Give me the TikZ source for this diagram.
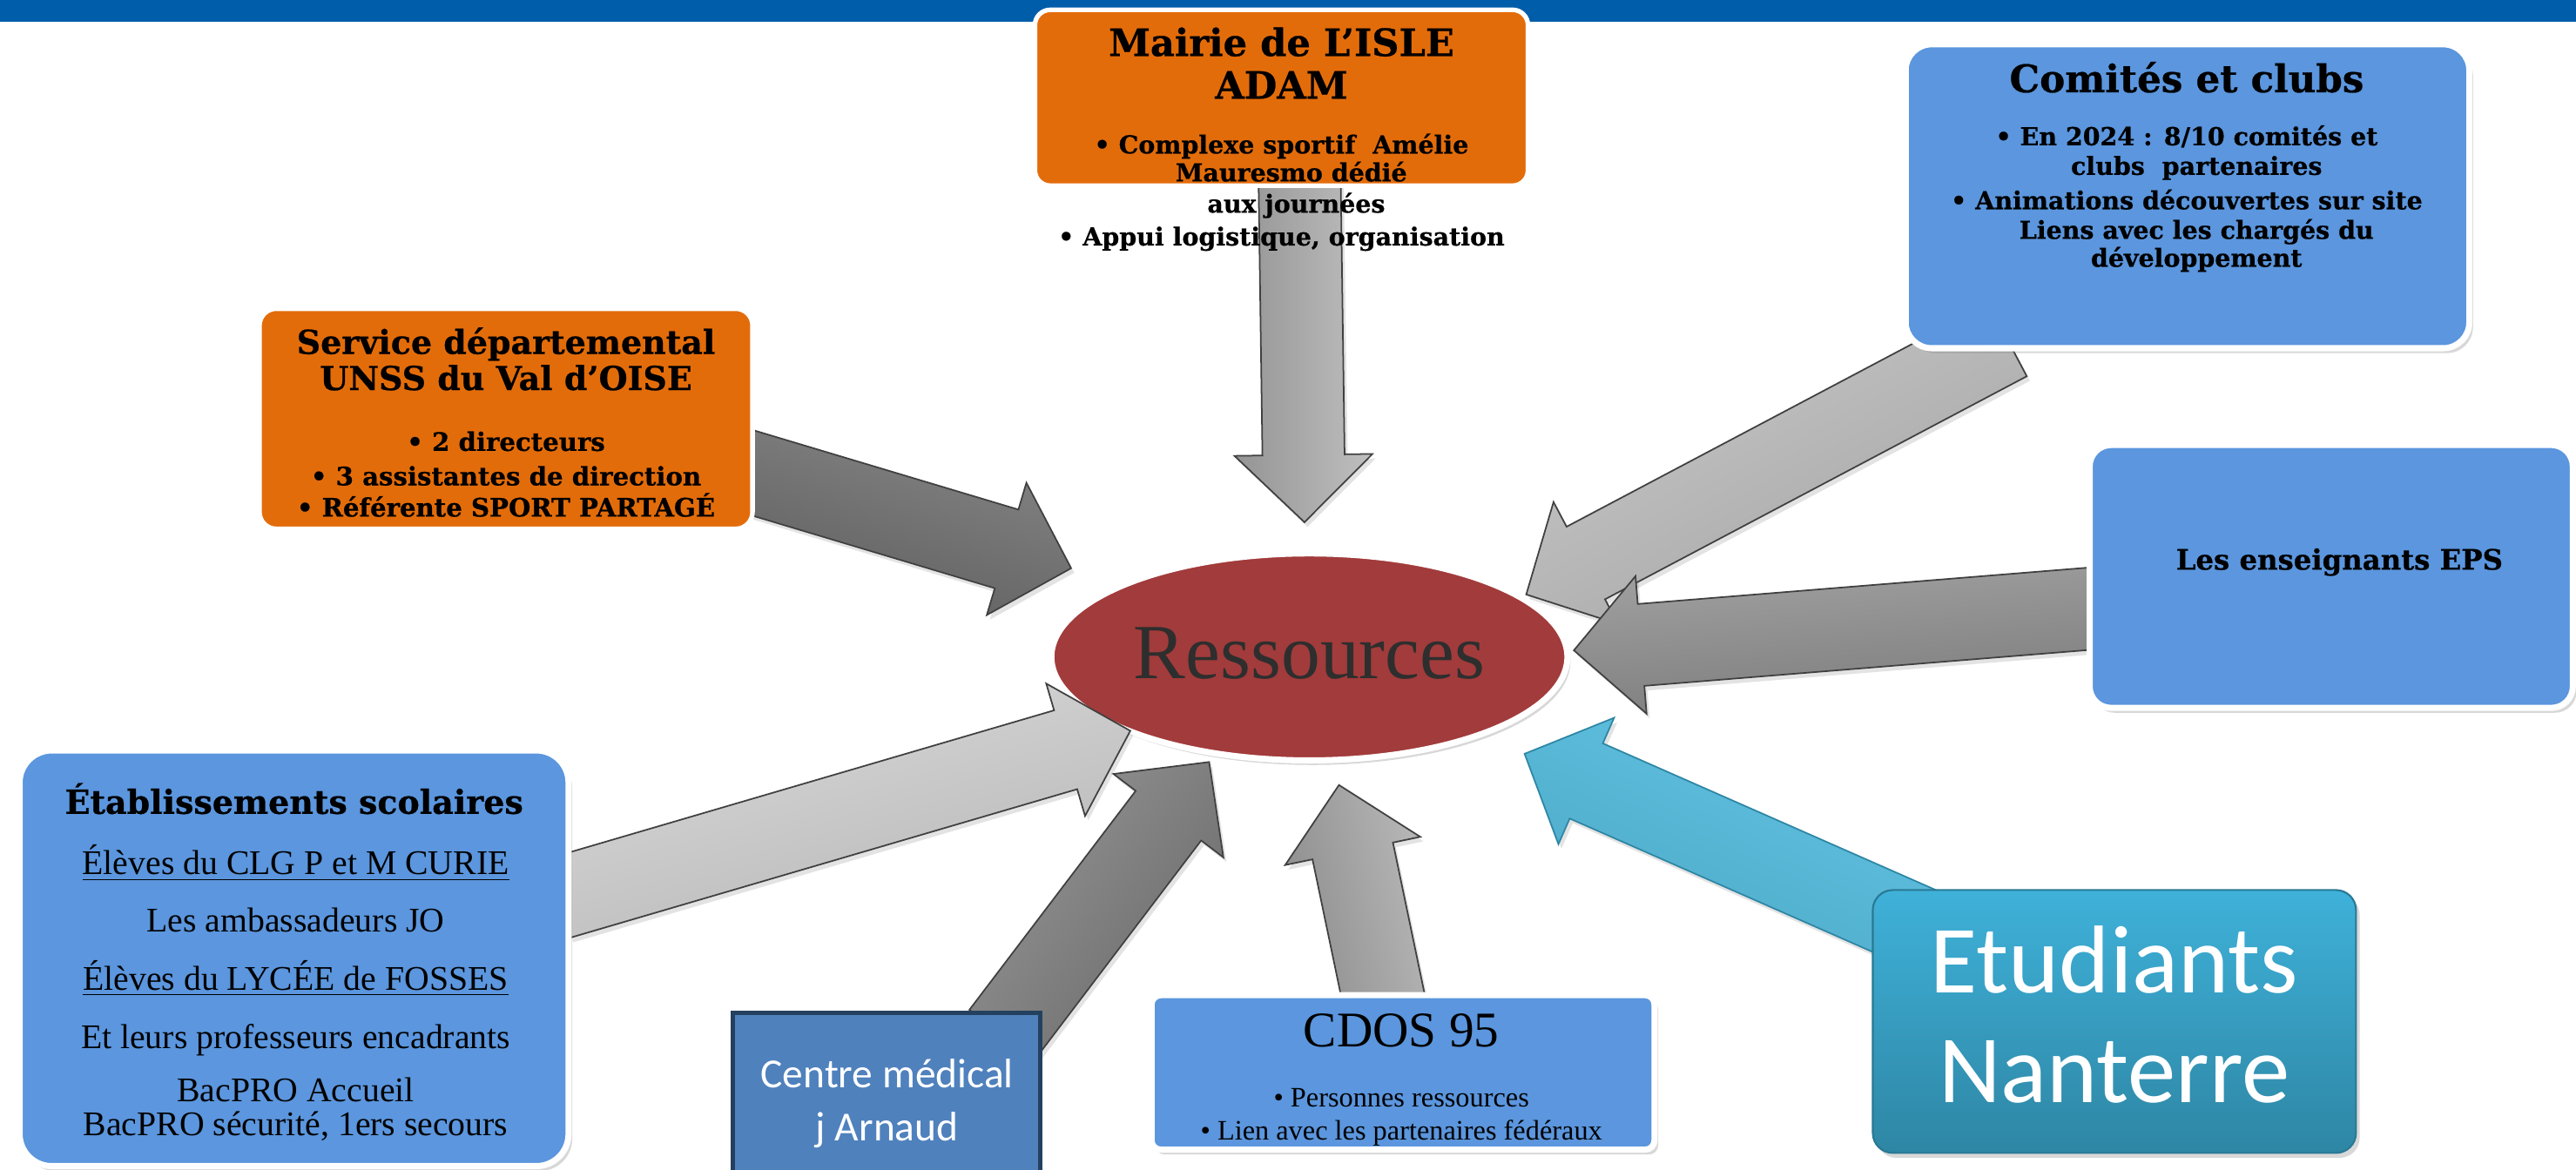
\documentclass[tikz,border=0pt]{standalone}
\usepackage{fontspec}
\setmainfont{Liberation Serif}
\newfontfamily\bk{DejaVu Serif}[BoldFeatures={FakeBold=0.6}]
\newfontfamily\carl{Carlito}
\usetikzlibrary{calc,shadows,shapes.geometric}
\def\pxu{0.5368pt}
\definecolor{barblue}{HTML}{005DAA}
\definecolor{orangeC}{HTML}{E36C0A}
\definecolor{blueC}{HTML}{5B96DE}
\definecolor{medC}{HTML}{4F81BD}
\definecolor{medB}{HTML}{24405F}
\definecolor{ellC}{HTML}{A23B3B}
\definecolor{etTop}{HTML}{3FB1D9}
\definecolor{etBot}{HTML}{2E86A4}
\definecolor{arTop}{HTML}{62C4E3}
\definecolor{arBot}{HTML}{4DA8C7}
\newcommand\blockarrow[4]{%
  \coordinate (#3) at ($(#2)!41*\pxu!(#1)$);
  \filldraw[arr,#4] ($(#1)!25*\pxu!90:(#2)$) -- ($(#3)!25*\pxu!90:(#2)$) -- ($(#3)!42*\pxu!90:(#2)$) -- (#2) -- ($(#3)!42*\pxu!-90:(#2)$) -- ($(#3)!25*\pxu!-90:(#2)$) -- ($(#1)!25*\pxu!-90:(#2)$) -- cycle;}
\begin{document}
\begin{tikzpicture}[x=0.018865cm,y=-0.018865cm,
  obox/.style={rectangle, fill=orangeC, draw=white, line width=1.5pt, inner sep=0pt},
  bbox/.style={rectangle, fill=blueC, draw=white, line width=2pt, inner sep=0pt,
     drop shadow={opacity=0.3, shadow xshift=1.2pt, shadow yshift=-1.6pt}},
  arr/.style={draw=black!75, line width=0.5pt, line join=miter,
     drop shadow={opacity=0.22, shadow xshift=1pt, shadow yshift=-1.5pt}},
  t/.style={inner sep=0pt, anchor=mid, text=black},
  bt/.style={t, font=\bk\bfseries\fontsize{#1}{#1}\selectfont, yshift=-0.21*#1pt},
  rt/.style={t, font=\fontsize{#1}{#1}\selectfont, yshift=-0.21*#1pt},
  ct/.style={t, text=white, font=\carl\fontsize{#1}{#1}\selectfont, yshift=-0.21*#1pt}]
\fill[white] (0,0) rectangle (1568,712.4);
\useasboundingbox (0,0) rectangle (1568,712.4);
\fill[barblue] (0,0) rectangle (1568,13.5);

% centre
\node[ellipse, fill=ellC, draw=white, line width=2pt, minimum width=314*\pxu, minimum height=126*\pxu, inner sep=0pt,
  drop shadow={opacity=0.3, shadow xshift=1pt, shadow yshift=-1.5pt}] (res) at (797,400) {};
\node[rt=25.5, text=black!82] (restxt) at (797,399) {Ressources};

% arrow end points
\coordinate (aMt) at (791,105);   \coordinate (aMh) at (794,318);
\coordinate (aSt) at (450,285.5); \coordinate (aSh) at (652,346);
\coordinate (aCt) at (1222,207);  \coordinate (aCh) at (929,362);
\coordinate (aEt) at (1280,370);  \coordinate (aEh) at (958,396);
\coordinate (aNt) at (1180,570);  \coordinate (aNh) at (928,459);
\coordinate (aDt) at (843,612);   \coordinate (aDh) at (815,478);
\coordinate (aCMt) at (610,630);  \coordinate (aCMh) at (736,464);
\coordinate (aBt) at (340,547);   \coordinate (aBh) at (688,445);

\blockarrow{aMt}{aMh}{aMn}{top color=black!25, bottom color=black!42, shading angle=-90}
\blockarrow{aSt}{aSh}{aSn}{top color=black!48, bottom color=black!63, shading angle=-17}
\blockarrow{aCt}{aCh}{aCn}{top color=black!22, bottom color=black!35, shading angle=28}
\blockarrow{aEt}{aEh}{aEn}{top color=black!37, bottom color=black!52, shading angle=5}
\blockarrow{aNt}{aNh}{aNn}{top color=arTop, bottom color=arBot, draw=etBot, shading angle=-24}
\blockarrow{aDt}{aDh}{aDn}{top color=black!28, bottom color=black!45, shading angle=-78}
\blockarrow{aCMt}{aCMh}{aCMn}{top color=black!42, bottom color=black!58, shading angle=53}
\blockarrow{aBt}{aBh}{aBn}{top color=black!15, bottom color=black!28, shading angle=16}

% boxes
\node[obox, minimum width=300*\pxu, minimum height=107*\pxu, rounded corners=5pt] (mairie) at (780,59.5) {};
\node[obox, minimum width=300*\pxu, minimum height=134*\pxu, rounded corners=5.5pt] (service) at (308,255) {};
\node[bbox, minimum width=343*\pxu, minimum height=185*\pxu, rounded corners=8.5pt] (comites) at (1331.5,119.5) {};
\node[bbox, minimum width=294*\pxu, minimum height=160*\pxu, rounded corners=7pt] (eps) at (1419,351) {};
\node[bbox, minimum width=334*\pxu, minimum height=253*\pxu, rounded corners=10.5pt] (etab) at (179,583.5) {};
\node[bbox, minimum width=306*\pxu, minimum height=94*\pxu, rounded corners=3pt] (cdos) at (854,653) {};
\node[rectangle, fill=medC, draw=medB, line width=1.4pt, minimum width=187*\pxu, minimum height=110*\pxu, inner sep=0pt] (centre) at (539.5,672) {};
\node[rectangle, top color=etTop, bottom color=etBot, draw=etBot!90!black, line width=0.6pt, rounded corners=6.5pt,
  minimum width=294*\pxu, minimum height=160*\pxu, inner sep=0pt,
  drop shadow={opacity=0.3, shadow xshift=1.2pt, shadow yshift=-1.6pt}] (etud) at (1287,622) {};

% Mairie texts
\node[bt=12.3] (m1) at (780,25) {Mairie de L’ISLE};
\node[bt=12.3] (m2) at (780,51) {ADAM};
\node[bt=8.1] (m3) at (780,86) {• Complexe sportif\ \ Amélie};
\node[bt=8.1] (m4) at (786,103) {Mauresmo dédié};
\node[bt=8.1] (m5) at (789,122) {aux journées};
\node[bt=8.1] (m6) at (780,142) {• Appui logistique, organisation};

% Comites texts
\node[bt=12.4] (c1) at (1331,47) {Comités et clubs};
\node[bt=8.1] (c2) at (1331,81) {• En 2024 : 8/10 comités et};
\node[bt=8.1] (c3) at (1337,99) {clubs\ \ partenaires};
\node[bt=8.1] (c4) at (1331,120) {• Animations découvertes sur site};
\node[bt=8.1] (c5) at (1337,138) {Liens avec les chargés du};
\node[bt=8.1] (c6) at (1337,155) {développement};

% Service texts
\node[bt=10.8] (s1) at (308,207) {Service départemental};
\node[bt=10.8] (s2) at (308,229) {UNSS du Val d’OISE};
\node[bt=8.3] (s3) at (308,267) {• 2 directeurs};
\node[bt=8.3] (s4) at (308,288) {• 3 assistantes de direction};
\node[bt=8.3] (s5) at (308,307) {• Référente SPORT PARTAGÉ};

% EPS
\node[bt=9.2] (e1) at (1424,339) {Les enseignants EPS};

% Etablissements
\node[bt=10.8] (b1) at (179,487) {Établissements scolaires};
\node[rt=11.3] (b2) at (180,524) {\underline{Élèves du CLG P et M CURIE}};
\node[rt=11.3] (b3) at (180,559) {Les ambassadeurs JO};
\node[rt=11.3] (b4) at (180,594) {\underline{Élèves du LYCÉE de FOSSES}};
\node[rt=11.3] (b5) at (180,630) {Et leurs professeurs encadrants};
\node[rt=11.3] (b6) at (180,662) {BacPRO Accueil};
\node[rt=11.3] (b7) at (180,683) {BacPRO sécurité, 1ers secours};

% Centre medical
\node[ct=13.5] (cm1) at (540,653) {Centre médical};
\node[ct=13.5] (cm2) at (540,685) {j Arnaud};

% CDOS
\node[rt=16.3] (d1) at (853,627) {CDOS 95};
\node[rt=9.2] (d2) at (853,666) {• Personnes ressources};
\node[rt=9.2] (d3) at (853,686) {• Lien avec les partenaires fédéraux};

% Etudiants
\node[ct=31.5] (n1) at (1287,588) {Etudiants};
\node[ct=31.5] (n2) at (1287,655) {Nanterre};
\end{tikzpicture}
\end{document}
